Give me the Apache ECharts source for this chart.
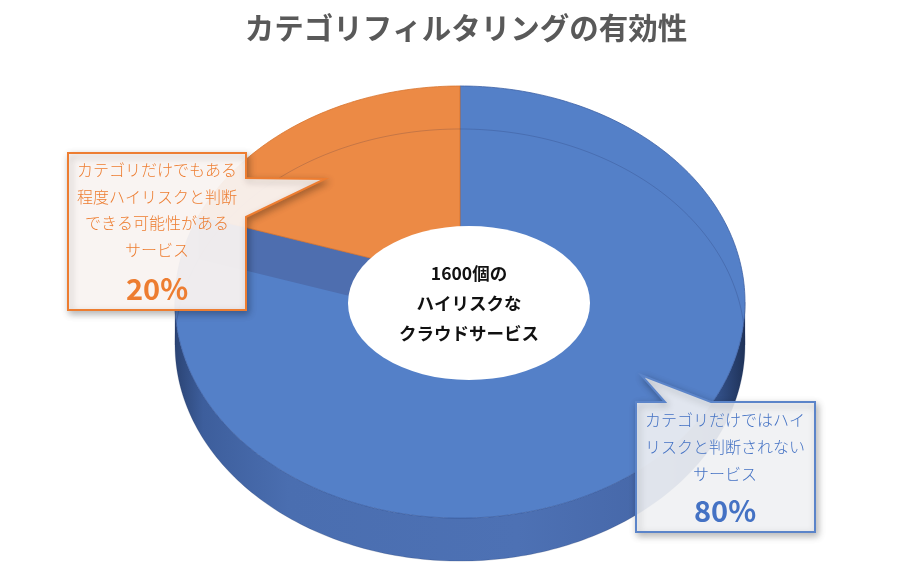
<!DOCTYPE html>
<html>
<head>
<meta charset="utf-8">
<script src="https://cdn.jsdelivr.net/npm/echarts@6.0.0/dist/echarts.min.js"></script>
<style>
  html, body { margin: 0; padding: 0; background: #fff; }
  #chart { width: 916px; height: 581px; }
</style>
</head>
<body>
<div id="chart"></div>
<script>
// data
var titleText = 'カテゴリフィルタリングの有効性';
var categories = [
  'カテゴリだけではハイリスクと判断されないサービス',
  'カテゴリだけでもある程度ハイリスクと判断できる可能性があるサービス'
];
var shares = [80, 20];
var centerLines = ['1600個の', 'ハイリスクな', 'クラウドサービス'];
var blueLines = ['カテゴリだけではハイ', 'リスクと判断されない', 'サービス'];
var orangeLines = ['カテゴリだけでもある', '程度ハイリスクと判断', 'できる可能性がある', 'サービス'];

// look
var FONT = '"Noto Sans CJK JP", "Noto Sans", sans-serif';
var topColors = ['#5480c8', '#ec8a45'];
var edgeColors = ['#3f62a6', '#d8752f'];
var bandColor = '#4e6eaf';

// projected 3D pie geometry
var CX = 460, CY = 280, SX = 283.5, SY = 213.8, K = 0.102, DEPTH = 43;
var FRONT_A = Math.acos(-K) * 180 / Math.PI;   // ~95.9
var FRONT_B = 360 - FRONT_A;

function proj(phi, r, drop) {
  var rad = phi * Math.PI / 180;
  var s = Math.sin(rad), c = Math.cos(rad);
  var w = 1 + K * r * c;
  return [CX + SX * r * s / w, CY - SY * r * c / w + drop];
}
function arc(a, b, r, drop) {
  var pts = [];
  var step = a < b ? 1 : -1;
  for (var p = a; step > 0 ? p < b : p > b; p += step) pts.push(proj(p, r, drop));
  pts.push(proj(b, r, drop));
  return pts;
}

var total = shares.reduce(function (s, v) { return s + v; }, 0);
var cum = [];
shares.reduce(function (s, v, i) { cum[i] = s; return s + v; }, 0);

var wallGrad = new echarts.graphic.LinearGradient(0, 0, 1, 0, [
  { offset: 0, color: '#2b4474' },
  { offset: 0.05, color: '#3d5e9c' },
  { offset: 0.2, color: '#4a6eb0' },
  { offset: 0.6, color: '#4d71b4' },
  { offset: 0.85, color: '#4667a8' },
  { offset: 0.95, color: '#33518a' },
  { offset: 1, color: '#1f3258' }
]);

function renderItem(params, api) {
  var i = params.dataIndex;
  var start = cum[i] / total * 360;
  var end = start + api.value(0) / total * 360;
  var children = [];

  // front wall
  var a = Math.max(start, FRONT_A), b = Math.min(end, FRONT_B);
  if (a < b) {
    var wall = arc(a, b, 1, DEPTH).concat(arc(b, a, 1, 0));
    children.push({ type: 'polygon', shape: { points: wall },
      style: { fill: wallGrad, stroke: 'rgba(30,50,90,0.35)', lineWidth: 0.6 } });
  }

  // top face
  var top = [proj(0, 0, 0)].concat(arc(start, end, 1, 0));
  children.push({ type: 'polygon', shape: { points: top },
    style: { fill: topColors[i], stroke: edgeColors[i], lineWidth: 0.8 } });

  // visible cut face at the slice end
  if (end > 180 && end < 360) {
    var band = [proj(end, 0, 0), proj(end, 1, 0), proj(end, 1, DEPTH), proj(end, 0, DEPTH)];
    children.push({ type: 'polygon', shape: { points: band },
      style: { fill: bandColor } });
  }

  // faint back rim of the base, drawn once on top
  if (i === shares.length - 1) {
    children.push({ type: 'polyline', shape: { points: arc(FRONT_B, FRONT_A + 360, 1, DEPTH) },
      style: { stroke: 'rgba(20,30,70,0.18)', lineWidth: 1, fill: null } });
  }
  return { type: 'group', children: children };
}

var orangeBox = [[68, 153], [246, 153], [246, 178], [325, 179], [246, 217], [246, 310], [68, 310]];
var blueBox = [[636, 402], [665, 402], [641, 375], [711, 402], [815, 402], [815, 532], [636, 532]];

var chart = echarts.init(document.getElementById('chart'), null, { renderer: 'canvas' });
chart.setOption({
  animation: false,
  backgroundColor: '#fff',
  series: [{
    type: 'custom',
    coordinateSystem: 'none',
    renderItem: renderItem,
    data: shares.map(function (v, i) { return { name: categories[i], value: [v] }; })
  }],
  graphic: [
    { type: 'text', z: 100, x: 466, y: 28,
      style: { text: titleText, font: 'bold 29.5px ' + FONT, fill: '#595959', align: 'center', verticalAlign: 'middle' } },
    // doughnut hole
    { type: 'circle', z: 100, x: 469, y: 303, scaleY: 77 / 121,
      shape: { cx: 0, cy: 0, r: 121 }, style: { fill: '#ffffff' } },
    { type: 'text', z: 101, x: 469, y: 303,
      style: { text: centerLines.join('\n'), font: 'bold 17.5px ' + FONT, lineHeight: 30,
        fill: '#111', align: 'center', verticalAlign: 'middle' } },
    // orange callout
    { type: 'polygon', z: 100, shape: { points: orangeBox },
      style: { fill: 'rgba(254,249,246,0.92)', stroke: '#ed7d31', lineWidth: 2,
        shadowBlur: 7, shadowColor: 'rgba(0,0,0,0.3)', shadowOffsetX: 2, shadowOffsetY: 3 } },
    { type: 'text', z: 101, x: 157, y: 210,
      style: { text: orangeLines.join('\n'), font: '300 16px ' + FONT, lineHeight: 26.7,
        fill: '#ed7d31', align: 'center', verticalAlign: 'middle' } },
    { type: 'text', z: 101, x: 157, y: 289,
      style: { text: shares[1] + '%', font: 'bold 29px ' + FONT, fill: '#ed7d31',
        align: 'center', verticalAlign: 'middle' } },
    // blue callout
    { type: 'polygon', z: 100, shape: { points: blueBox },
      style: { fill: 'rgba(248,249,252,0.88)', stroke: '#5b84c9', lineWidth: 2,
        shadowBlur: 7, shadowColor: 'rgba(0,0,0,0.3)', shadowOffsetX: 2, shadowOffsetY: 3 } },
    { type: 'text', z: 101, x: 725, y: 447,
      style: { text: blueLines.join('\n'), font: '300 16px ' + FONT, lineHeight: 27,
        fill: '#4472c4', align: 'center', verticalAlign: 'middle' } },
    { type: 'text', z: 101, x: 725, y: 511,
      style: { text: shares[0] + '%', font: 'bold 29px ' + FONT, fill: '#4472c4',
        align: 'center', verticalAlign: 'middle' } }
  ]
});
</script>
</body>
</html>
